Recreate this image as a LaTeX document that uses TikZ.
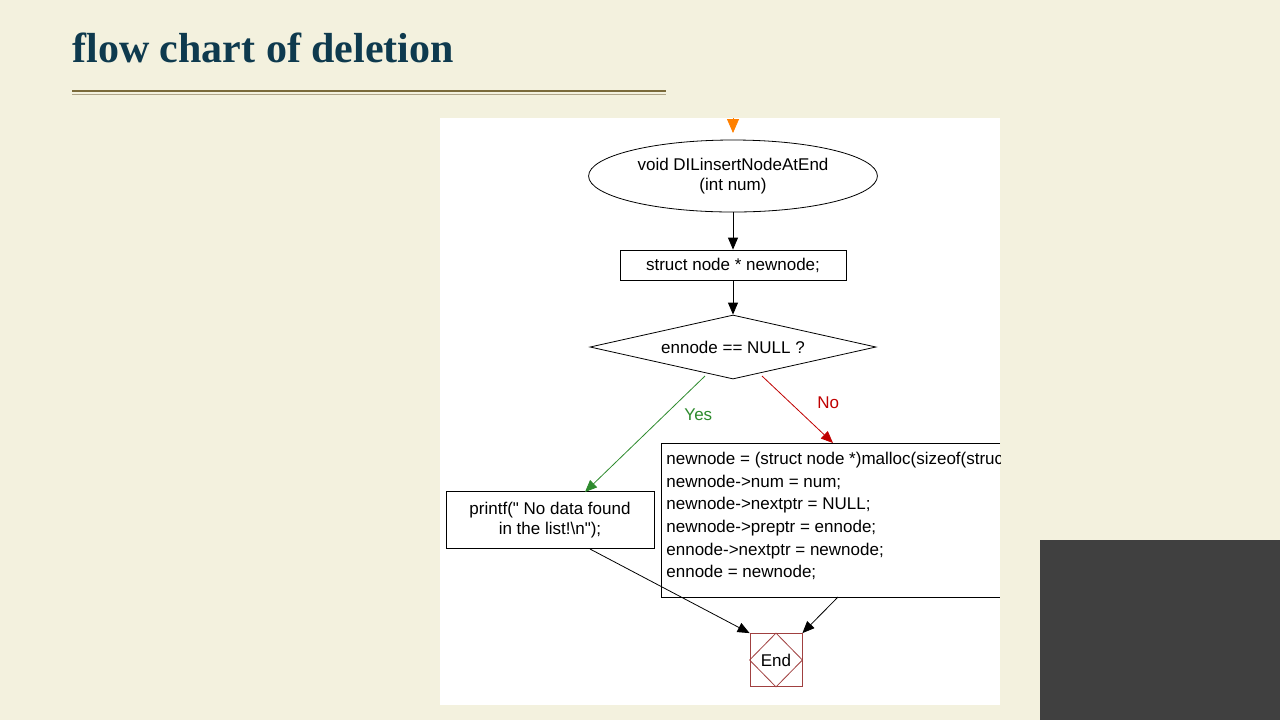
\documentclass[tikz,border=0pt]{standalone}
\usepackage{fontspec}
\setmainfont{Liberation Serif}
\newfontfamily\chartfont{Liberation Sans}
\usetikzlibrary{arrows.meta,shapes.geometric}
\definecolor{slidebg}{HTML}{F3F1DE}
\definecolor{titleblue}{HTML}{0E3A4E}
\definecolor{rulebrown}{HTML}{7A6A3A}
\definecolor{yesgreen}{HTML}{2E8B2E}
\definecolor{nored}{HTML}{C00000}
\definecolor{endred}{HTML}{A04040}
\begin{document}
\begin{tikzpicture}[
            x=0.5pt, y=-0.5pt,
            every node/.style = {font=\chartfont\fontsize{8.5}{10}\selectfont},
            stepbox/.style = {draw, rectangle, inner sep=2pt, align=center},
            flow/.style = {-{Triangle[length=6pt,width=5pt]}, line width=0.4pt}
        ]
        % slide
        \fill[slidebg] (0,0) rectangle (1280,720);
        \useasboundingbox (0,0) rectangle (1280,720);
        \node[anchor=base west, inner sep=0, text=titleblue,
              font=\bfseries\fontsize{21}{24}\selectfont] (title) at (72,62) {flow chart of deletion};
        \draw[rulebrown, line width=0.9pt] (72,91) -- (666,91);
        \draw[rulebrown!60, line width=0.4pt] (72,94) -- (666,94);
        \fill[white] (440,118) rectangle (1000,705);

        % chart
        \coordinate (top) at (733,118);
        \node[draw, ellipse, minimum width=135pt, minimum height=36pt, align=center] (start) at (733,176)
            {void DILinsertNodeAtEnd\\(int num)};
        \node[stepbox, minimum width=113pt, minimum height=15pt] (decl) at (733,265) {struct node * newnode;};
        \node[draw, diamond, aspect=4.5, inner sep=1pt, minimum width=143pt, minimum height=32pt] (check) at (733,347)
            {ennode == NULL ?};
        \node[stepbox, minimum width=104pt, minimum height=28.5pt] (msg) at (550,520)
            {printf(" No data found\\in the list!\textbackslash n");};
        \node[draw, endred, rectangle, minimum width=26pt, minimum height=26.5pt] (end) at (776,660) {};
        \draw[endred] (end.north) -- (end.east) -- (end.south) -- (end.west) -- cycle;
        \node at (end.center) {End};

        % clipped box
        \begin{scope}
            \clip (440,118) rectangle (1000,705);
            \draw (1000,443) -- (661,443) -- (661,597) -- (1000,597);
            \node[anchor=north west, align=left, inner sep=0] (alloc) at (666,452)
                {newnode = (struct node *)malloc(sizeof(struct node));\\[1.3pt]
                 newnode->num = num;\\[1.3pt]
                 newnode->nextptr = NULL;\\[1.3pt]
                 newnode->preptr = ennode;\\[1.3pt]
                 ennode->nextptr = newnode;\\[1.3pt]
                 ennode = newnode;};
        \end{scope}
        \coordinate (allocin) at (833,443);
        \coordinate (allocout) at (838,597);
        \coordinate (msgin) at (585,492);
        \coordinate (msgout) at (590,549);

        \draw[flow, orange, -{Triangle[length=7pt,width=6pt]}] (top) -- ++(0,15);
        \draw[flow] (start) -- (decl);
        \draw[flow] (decl) -- (check);
        \draw[flow, yesgreen] (705,376) -- (msgin) node[pos=0.33, right=6pt] {Yes};
        \draw[flow, nored] (762,376) -- (allocin) node[pos=0.4, right=10pt] {No};
        \draw[flow] (msgout) -- (end.north west);
        \draw[flow] (allocout) -- (end.north east);

        % webcam
        \fill[black!75] (1040,540) rectangle (1280,720);
\end{tikzpicture}
\end{document}
